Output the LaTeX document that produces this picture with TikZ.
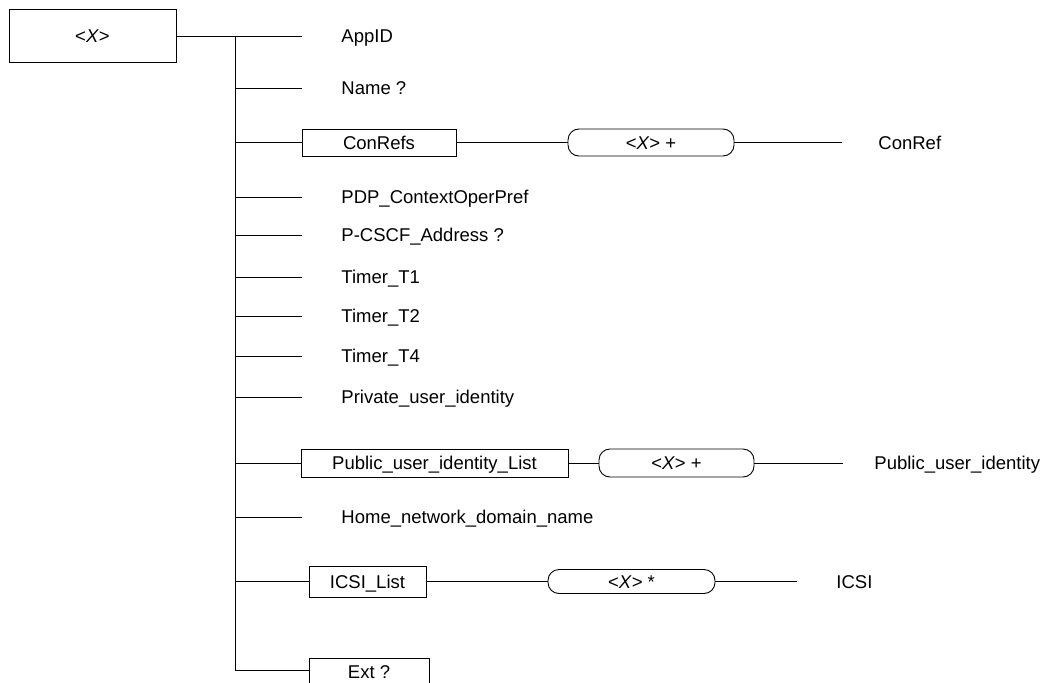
\documentclass[tikz,border=0pt]{standalone}
\usepackage{fontspec}
\setmainfont{Liberation Sans}
\begin{document}
\begin{tikzpicture}[x=1pt,y=-1pt,line width=0.9pt,
  every node/.style={font=\fontsize{18.5}{22}\selectfont},
  box/.style={draw,inner sep=0pt,text height=13.3pt,text depth=0pt},
  rbox/.style={box,rounded corners=11pt},
  leaf/.style={anchor=base west,inner sep=0pt}]
\useasboundingbox (0,0) rectangle (1043,682);
% root
\node[box,minimum width=167pt,minimum height=53pt] (root) at (92.5,35.5) {<\textit{X}>};
\coordinate (top) at (235,36);
\coordinate (bot) at (235,670);
\draw (root.east |- top) -- (top);
\draw (top) -- (bot);
% simple leaves
\foreach \y/\nm/\txt in {36/appid/AppID,88/name/Name ?,197/pdp/PDP\_ContextOperPref,235/pcscf/P-CSCF\_Address ?,277/tone/Timer\_T1,316/ttwo/Timer\_T2,356/tfour/Timer\_T4,397/priv/Private\_user\_identity,517/home/Home\_network\_domain\_name}{
  \coordinate (j\nm) at (235,\y);
  \coordinate (e\nm) at (302,\y);
  \draw (j\nm) -- (e\nm);
  \node[leaf] (\nm) at (341,\y+6.7) {\txt};
}
% ConRefs
\node[box,minimum width=154pt,minimum height=27pt] (conrefs) at (379,142.5) {ConRefs};
\node[rbox,minimum width=166pt,minimum height=27pt] (conx) at (651,142.5) {<\textit{X}> +};
\coordinate (jcon) at (235,142.5);
\coordinate (econ) at (842,142.5);
\node[leaf] (conref) at (878,149.2) {ConRef};
\draw (jcon) -- (conrefs.west);
\draw (conrefs.east) -- (conx.west);
\draw (conx.east) -- (econ);
% Public user identity list
\node[box,minimum width=267pt,minimum height=28pt] (publist) at (434.5,463) {Public\_user\_identity\_List};
\node[rbox,minimum width=155pt,minimum height=28pt] (pubx) at (676.5,463) {<\textit{X}> +};
\coordinate (jpub) at (235,463);
\coordinate (epub) at (843,463);
\node[leaf] (pubid) at (874,469.7) {Public\_user\_identity};
\draw (jpub) -- (publist.west);
\draw (publist.east) -- (pubx.west);
\draw (pubx.east) -- (epub);
% ICSI list
\node[box,minimum width=117pt,minimum height=31pt] (icsilist) at (367.5,581.5) {ICSI\_List};
\node[rbox,minimum width=167pt,minimum height=24pt] (icsix) at (631.5,581.5) {<\textit{X}> *};
\coordinate (jicsi) at (235,581.5);
\coordinate (eicsi) at (797,581.5);
\node[leaf] (icsi) at (836,588.2) {ICSI};
\draw (jicsi) -- (icsilist.west);
\draw (icsilist.east) -- (icsix.west);
\draw (icsix.east) -- (eicsi);
% Ext
\node[box,minimum width=120pt,minimum height=28pt] (ext) at (369,672) {Ext ?};
\draw (bot) -- (ext.west |- bot);
\end{tikzpicture}
\end{document}
